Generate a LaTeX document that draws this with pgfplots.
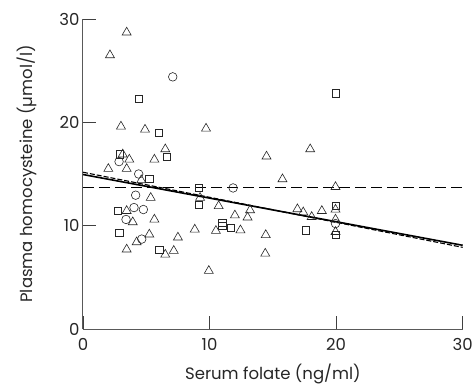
\documentclass[border=0pt]{standalone}
\usepackage{pgfplots}
\pgfplotsset{compat=1.18}
\usepackage{fontspec}
\setmainfont{Poppins}
\begin{document}
\begin{tikzpicture}
\begin{axis}[
  at={(0,0)}, anchor=south west,
  scale only axis, width=379.7pt, height=310pt,
  xmin=0, xmax=30, ymin=0, ymax=30,
  xtick={0,10,20,30}, ytick={0,10,20,30},
  axis x line*=bottom, axis y line*=left,
  axis line style={draw=black!65, line width=1pt, -},
  tick align=inside, major tick length=13pt,
  tick style={black!75, line width=0.9pt},
  /pgf/number format/assume math mode=true,
  ticklabel style={font=\fontsize{16.5}{18}\selectfont, text=black!85},
  label style={font=\fontsize{16.5}{18}\selectfont, text=black!85},
  xticklabel style={yshift=-6pt},
  xlabel={Serum folate (ng/ml)},
  ylabel={Plasma homocysteine (µmol/l)},
  xlabel style={at={(axis description cs:0.5,0)}, anchor=center, yshift=-45pt},
  ylabel style={at={(axis description cs:0,0.5)}, anchor=center, yshift=56pt},
  clip=false,
]
% horizontal dashed reference line
\addplot[black, line width=0.7pt, dash pattern=on 11pt off 5pt] coordinates {(0,13.75) (30,13.75)};
% regression lines
\addplot[black, line width=1.6pt] coordinates {(0,14.95) (30,8.1)};
\addplot[black, line width=1.1pt, dash pattern=on 5pt off 2pt] coordinates {(0,15.17) (30,7.9)};
% triangles
\addplot[only marks, mark=triangle, mark size=5.2pt, mark options={black!85, line width=0.6pt}] coordinates {
(3.45,28.7) (2.13,26.5) (3.0,19.6) (4.9,19.3) (9.72,19.4) (3.14,16.9) (3.66,16.4) (5.64,16.4)
(6.5,17.4) (2.0,15.5) (3.45,15.5) (4.6,14.4) (14.5,16.7) (17.95,17.4) (15.76,14.5) (19.95,13.75)
(5.35,12.7) (9.25,12.7) (3.45,11.43) (10.72,11.9) (13.2,11.5) (12.0,11.0) (13.0,10.8) (16.94,11.6)
(17.4,11.3) (18.07,10.85) (18.87,11.43) (19.95,11.56) (19.95,10.6) (3.93,10.34) (5.64,10.6)
(3.45,7.7) (4.24,8.4) (5.24,9.15) (6.5,7.2) (7.17,7.57) (7.5,8.86) (8.83,9.63) (9.94,5.63)
(10.5,9.5) (12.44,9.56) (14.44,9.1) (14.4,7.3) (19.95,9.4)
};
% circles
\addplot[only marks, mark=o, mark size=4.3pt, mark options={black!85, line width=0.6pt}] coordinates {
(7.09,24.4) (2.85,16.2) (4.4,15.0) (11.86,13.65) (4.16,12.95) (4.03,11.75) (4.77,11.56)
(3.4,10.6) (19.95,10.2) (4.64,8.7)
};
% squares
\addplot[only marks, mark=square, mark size=3.6pt, mark options={black!85, line width=0.6pt}] coordinates {
(4.43,22.3) (19.95,22.8) (5.98,19.0) (2.92,16.9) (6.6,16.7) (5.24,14.5) (9.12,13.65) (9.12,12.0)
(2.74,11.43) (19.95,11.9) (2.87,9.3) (6.03,7.7) (11.0,10.25) (11.0,9.95) (11.67,9.8) (17.6,9.56)
(19.95,9.15)
};
\end{axis}
\pgfresetboundingbox
\path[use as bounding box] (-83pt,-56pt) rectangle (393pt,329pt);
\end{tikzpicture}
\end{document}
